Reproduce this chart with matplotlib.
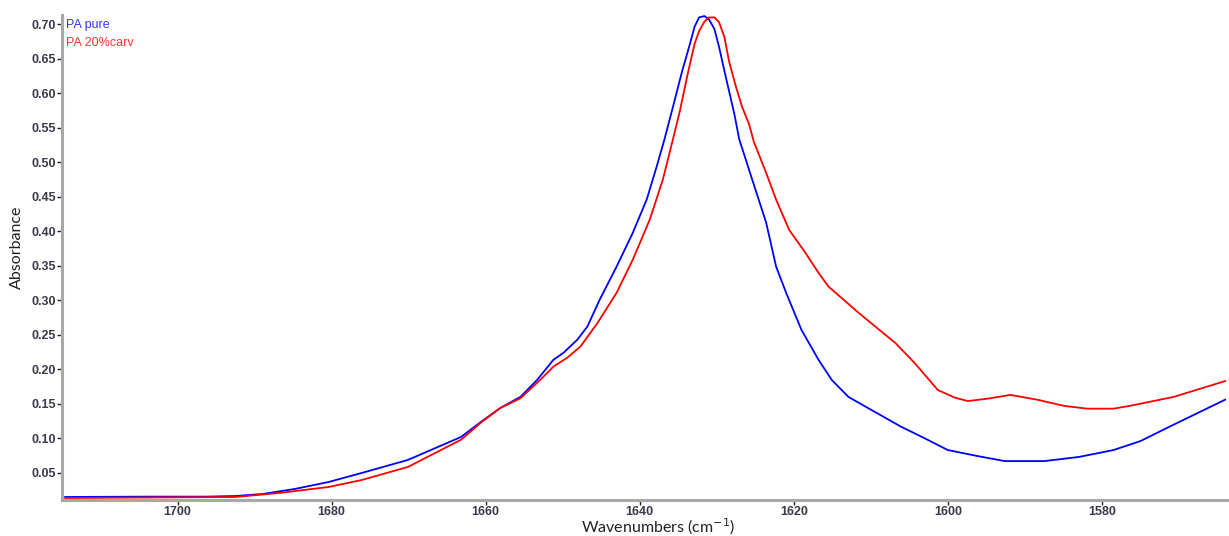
import matplotlib
matplotlib.use("Agg")
import matplotlib.pyplot as plt
from matplotlib.ticker import MultipleLocator, FormatStrFormatter

# wavenumbers (cm-1) and absorbance
pure_wn = [1714.6, 1704.0, 1696.4, 1692.5, 1689.0, 1684.8, 1680.4, 1676.1, 1670.1,
           1663.2, 1660.6, 1658.1, 1655.5, 1653.3, 1651.2, 1649.9, 1648.1, 1646.8,
           1645.2, 1643.0, 1640.9, 1639.1, 1637.8, 1636.8, 1635.7, 1634.5, 1633.5,
           1632.9, 1632.3, 1631.6, 1631.0, 1630.3, 1629.7, 1629.0, 1628.4, 1627.7,
           1627.1, 1625.4, 1623.6, 1622.3, 1621.0, 1619.0, 1616.8, 1615.1, 1612.9,
           1610.7, 1606.1, 1603.0, 1600.0, 1596.0, 1592.6, 1587.5, 1583.0, 1578.5,
           1575.0, 1571.2, 1564.0]
pure_abs = [0.015, 0.0155, 0.0155, 0.0164, 0.0193, 0.0266, 0.0367, 0.0498, 0.0687,
            0.102, 0.124, 0.144, 0.160, 0.185, 0.214, 0.224, 0.243, 0.262,
            0.301, 0.349, 0.398, 0.446, 0.494, 0.533, 0.580, 0.632, 0.671,
            0.696, 0.710, 0.712, 0.707, 0.693, 0.667, 0.632, 0.603, 0.569,
            0.534, 0.475, 0.413, 0.349, 0.311, 0.257, 0.214, 0.185, 0.160,
            0.146, 0.117, 0.100, 0.083, 0.074, 0.067, 0.067, 0.073, 0.083,
            0.096, 0.117, 0.156]

carv_wn = [1714.6, 1692.5, 1686.8, 1680.4, 1676.1, 1670.1, 1663.2, 1660.6, 1658.1,
           1655.5, 1652.9, 1651.2, 1649.4, 1647.7, 1645.5, 1643.0, 1640.9, 1638.7,
           1637.0, 1635.7, 1634.8, 1633.8, 1632.9, 1632.3, 1631.6, 1631.0, 1630.3,
           1629.7, 1629.0, 1628.4, 1627.5, 1626.7, 1625.8, 1625.2, 1623.6, 1622.3,
           1620.6, 1618.5, 1616.8, 1615.5, 1611.6, 1606.8, 1604.3, 1601.3, 1599.1,
           1597.4, 1594.5, 1591.9, 1588.4, 1584.9, 1581.9, 1578.5, 1576.4, 1570.7,
           1564.0]
carv_abs = [0.0135, 0.015, 0.0208, 0.0295, 0.0396, 0.0585, 0.098, 0.123, 0.144,
            0.158, 0.185, 0.204, 0.217, 0.233, 0.267, 0.311, 0.359, 0.417,
            0.475, 0.533, 0.574, 0.627, 0.671, 0.690, 0.704, 0.710, 0.710,
            0.703, 0.681, 0.646, 0.609, 0.580, 0.555, 0.530, 0.485, 0.446,
            0.402, 0.369, 0.340, 0.320, 0.282, 0.238, 0.209, 0.170, 0.159,
            0.154, 0.158, 0.163, 0.156, 0.147, 0.143, 0.143, 0.147, 0.160,
            0.183]

labels = ["PA pure", "PA 20%carv"]

fig = plt.figure(figsize=(12.29, 5.36), dpi=100)
ax = fig.add_axes([0.0505, 0.067, 0.9495, 0.905])

ax.plot(pure_wn, pure_abs, color="#0000ff", lw=1.3)
ax.plot(carv_wn, carv_abs, color="#ff0000", lw=1.3)

ax.set_xlim(1715, 1563.5)
ax.set_ylim(0.0105, 0.7135)

ax.xaxis.set_major_locator(MultipleLocator(20))
ax.xaxis.set_minor_locator(MultipleLocator(5))
ax.yaxis.set_major_locator(MultipleLocator(0.05))
ax.yaxis.set_minor_locator(MultipleLocator(0.0125))
ax.yaxis.set_major_formatter(FormatStrFormatter("%.2f"))

for s in ["top", "right"]:
    ax.spines[s].set_visible(False)
for s in ["left", "bottom"]:
    ax.spines[s].set_color("#a8a8a8")
    ax.spines[s].set_linewidth(2.2)

ax.tick_params(which="major", direction="out", length=3.5, width=1, color="#222222",
               labelsize=9, labelcolor="#3a3a4a", pad=1)
ax.tick_params(which="minor", direction="inout", length=2, width=1, color="#222222")
for lab in ax.get_xticklabels() + ax.get_yticklabels():
    lab.set_family(["Liberation Sans", "DejaVu Sans"])
    lab.set_fontweight("bold")

fig.text(658 / 1229, 1 - 527 / 536, "Wavenumbers (cm$^{-1}$)", fontsize=11.5,
         color="#222222", family=["Lato", "DejaVu Sans"], ha="center", va="center")
fig.text(17 / 1229, 1 - 247 / 536, "Absorbance", fontsize=11.5, rotation=90,
         color="#222222", family=["Lato", "DejaVu Sans"], ha="center", va="center")

ax.text(0.003, 0.979, labels[0], transform=ax.transAxes, color="#3333ff",
        fontsize=9, va="center", family=["Liberation Sans", "DejaVu Sans"])
ax.text(0.003, 0.942, labels[1], transform=ax.transAxes, color="#ff3333",
        fontsize=9, va="center", family=["Liberation Sans", "DejaVu Sans"])

fig.savefig("out.png", dpi=100)
